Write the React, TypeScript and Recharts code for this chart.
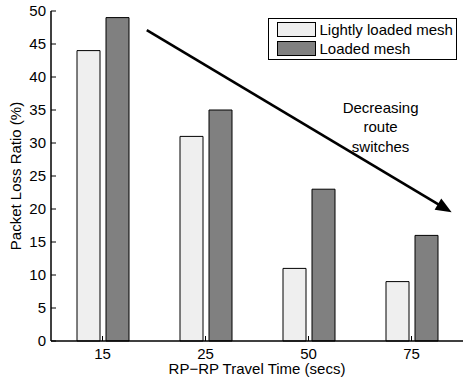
import { Bar, BarChart, Legend, ReferenceLine, XAxis, YAxis } from "recharts";

const categories = ["15", "25", "50", "75"];
const lightlyLoaded = [44, 31, 11, 9];
const loaded = [49, 35, 23, 16];
const yTicks = [0, 5, 10, 15, 20, 25, 30, 35, 40, 45, 50];
const seriesNames = ["Lightly loaded mesh", "Loaded mesh"];
const annotationLines = ["Decreasing", "route", "switches"];

// annotation anchors: x in category bands (0 = left edge of "15", 4 = right edge of "75"), y in percent
const arrowStart = { band: 0.93, y: 47.1 };
const arrowEnd = { band: 3.89, y: 19.5 };
const annotationAt = { band: 3.2, y: 32.4 };

const FONT = "'Liberation Sans', Arial, Helvetica, sans-serif";

const rows = categories.map((c, i) => ({
  cat: c,
  light: lightlyLoaded[i],
  heavy: loaded[i],
}));

const first = categories[0];
const last = categories[categories.length - 1];
const spanBands = categories.length - 1;

// x1/x2 arrive as the centres of the first and last category bands
function bandToPx(x1: number, x2: number, band: number) {
  const bw = (x2 - x1) / spanBands;
  return x1 + (band - 0.5) * bw;
}

function Arrow(p: any) {
  const { x1, y1, x2, y2 } = p;
  const sx = bandToPx(x1, x2, arrowStart.band);
  const ex = bandToPx(x1, x2, arrowEnd.band);
  const dx = ex - sx;
  const dy = y2 - y1;
  const len = Math.sqrt(dx * dx + dy * dy);
  const ux = dx / len;
  const uy = dy / len;
  const head = 16;
  const half = 6.5;
  const bx = ex - ux * head;
  const by = y2 - uy * head;
  const pts = [
    [ex, y2],
    [bx - uy * half, by + ux * half],
    [bx + uy * half, by - ux * half],
  ]
    .map((q) => q.join(","))
    .join(" ");
  return (
    <g>
      <line x1={sx} y1={y1} x2={bx + ux * 2} y2={by + uy * 2} stroke="#000" strokeWidth={2.6} />
      <polygon points={pts} fill="#000" />
    </g>
  );
}

function Annotation(p: any) {
  const { x1, x2, y1 } = p;
  const cx = bandToPx(x1, x2, annotationAt.band);
  return (
    <text x={cx} y={y1} textAnchor="middle" fontFamily={FONT} fontSize={15} fill="#000">
      {annotationLines.map((t, i) => (
        <tspan key={t} x={cx} y={y1 + (i - 1) * 19.5 + 5}>
          {t}
        </tspan>
      ))}
    </text>
  );
}

function LegendBox(props: any) {
  const payload = props.payload || [];
  return (
    <div
      style={{
        position: "relative",
        width: 189,
        height: 42,
        boxSizing: "border-box",
        border: "1.5px solid #000",
        background: "#fff",
        fontFamily: FONT,
        fontSize: 15,
        color: "#000",
      }}
    >
      {payload.map((e: any, i: number) => (
        <div
          key={e.value}
          style={{ position: "absolute", left: 7.5, top: 2.5 + i * 19, height: 15, display: "flex", alignItems: "center" }}
        >
          <div
            style={{
              width: 39,
              height: 15,
              boxSizing: "border-box",
              border: "1px solid #000",
              background: e.color,
            }}
          />
          <span style={{ marginLeft: 4, lineHeight: "15px", whiteSpace: "nowrap" }}>{e.value}</span>
        </div>
      ))}
    </div>
  );
}

export default function App() {
  const tickStyle = { fontFamily: FONT, fontSize: 15, fill: "#000" };
  return (
    <div style={{ position: "absolute", left: 0, top: 0, background: "#fff" }}>
      <BarChart
        width={466}
        height={381}
        data={rows}
        margin={{ top: 11, right: 3, bottom: 0, left: 0 }}
        barSize={23}
        barGap={6}
      >
        <XAxis
          dataKey="cat"
          height={40}
          tick={tickStyle}
          tickSize={-5}
          tickMargin={12}
          axisLine={{ stroke: "#000", strokeWidth: 1.5 }}
          tickLine={{ stroke: "#000" }}
          label={{
            value: "RP\u2212RP Travel Time (secs)",
            position: "insideBottom",
            offset: 7,
            style: { fontFamily: FONT, fontSize: 15, fill: "#000" },
          }}
        />
        <XAxis
          xAxisId="top"
          dataKey="cat"
          orientation="top"
          height={0}
          tick={false}
          tickSize={-5}
          axisLine={{ stroke: "#000", strokeWidth: 1.5 }}
          tickLine={{ stroke: "#000" }}
        />
        <YAxis
          width={51}
          domain={[0, 50]}
          ticks={yTicks}
          interval={0}
          tick={tickStyle}
          tickSize={-5}
          tickMargin={10}
          axisLine={{ stroke: "#000", strokeWidth: 1.5 }}
          tickLine={{ stroke: "#000" }}
          label={{
            value: "Packet Loss Ratio (%)",
            angle: -90,
            position: "insideLeft",
            offset: 16,
            style: { fontFamily: FONT, fontSize: 15, fill: "#000", textAnchor: "middle" },
          }}
        />
        <YAxis
          yAxisId="right"
          orientation="right"
          width={0}
          domain={[0, 50]}
          ticks={yTicks}
          interval={0}
          tick={false}
          tickSize={-5}
          axisLine={{ stroke: "#000", strokeWidth: 1.5 }}
          tickLine={{ stroke: "#000" }}
        />
        <Legend
          layout="vertical"
          align="center"
          verticalAlign="middle"
          width={189}
          wrapperStyle={{ left: 268, top: 18, width: 189 }}
          content={<LegendBox />}
        />
        <Bar dataKey="light" name={seriesNames[0]} fill="#efefef" stroke="#000" strokeWidth={1} isAnimationActive={false} />
        <Bar dataKey="heavy" name={seriesNames[1]} fill="#808080" stroke="#000" strokeWidth={1} isAnimationActive={false} />
        <ReferenceLine
          segment={[
            { x: first, y: arrowStart.y },
            { x: last, y: arrowEnd.y },
          ]}
          shape={<Arrow />}
          ifOverflow="visible"
        />
        <ReferenceLine
          segment={[
            { x: first, y: annotationAt.y },
            { x: last, y: annotationAt.y },
          ]}
          shape={<Annotation />}
          ifOverflow="visible"
        />
      </BarChart>
    </div>
  );
}
